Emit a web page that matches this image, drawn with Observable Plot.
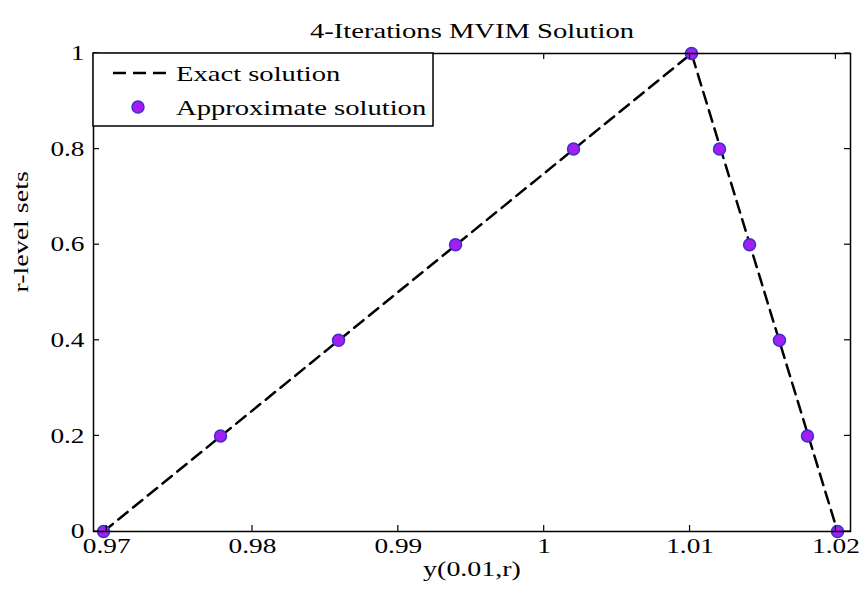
<!DOCTYPE html>
<html>
<head>
<meta charset="utf-8">
<script src="https://cdn.jsdelivr.net/npm/d3@7"></script>
<script src="https://cdn.jsdelivr.net/npm/@observablehq/plot@0.6"></script>
<style>
  html, body { margin: 0; padding: 0; background: #fff; }
  #chart { width: 860px; height: 591px; }
</style>
</head>
<body>
<div id="chart"></div>
<script>
// ---- data ----
const rLevels = [0, 0.2, 0.4, 0.6, 0.8, 1, 0.8, 0.6, 0.4, 0.2, 0];
const approxY = [0.96979, 0.97781, 0.98590, 0.99392, 1.00201, 1.01010, 1.01202, 1.01408, 1.01613, 1.01805, 1.02011];
const exactY = [0.96979, 1.01010, 1.02011];
const exactR = [0, 1, 0];
const xTicks = [0.97, 0.98, 0.99, 1.00, 1.01, 1.02];
const xTickLabels = ["0.97", "0.98", "0.99", "1", "1.01", "1.02"];
const yTicks = [0, 0.2, 0.4, 0.6, 0.8, 1];
const yTickLabels = ["0", "0.2", "0.4", "0.6", "0.8", "1"];
const titleText = "4-Iterations MVIM Solution";
const xLabel = "y(0.01,r)";
const yLabel = "r-level sets";
const legendLabels = ["Exact solution", "Approximate solution"];

const approx = approxY.map((y, i) => ({y, r: rLevels[i]}));
const exact = exactY.map((y, i) => ({y, r: exactR[i]}));

const W = 860, H = 591;
const mL = 93, mR = 10, mT = 53, mB = 60;
const xDom = [0.9691, 1.0210], yDom = [0, 1];
const FONT = "Liberation Serif, Times New Roman, serif";
const fill = "#a21ff0", edge = "#3c2fd2";
const tickLen = 6;

const svg = Plot.plot({
  width: W, height: H,
  marginLeft: mL, marginRight: mR, marginTop: mT, marginBottom: mB,
  style: {fontFamily: FONT, fontSize: "21px", color: "black", background: "white"},
  x: {domain: xDom},
  y: {domain: yDom},
  marks: [
    Plot.axisX(xTicks, {tickSize: 0, tickPadding: 7, label: null, fontSize: 21, tickFormat: (d) => xTickLabels[xTicks.indexOf(d)]}),
    Plot.axisY(yTicks, {tickSize: 0, tickPadding: 9, label: null, fontSize: 21, tickFormat: (d) => yTickLabels[yTicks.indexOf(d)]}),
    Plot.line(exact, {x: "y", y: "r", stroke: "black", strokeWidth: 2.5, strokeDasharray: "12,7"}),
    Plot.dot(approx, {x: "y", y: "r", r: 6, fill: fill, stroke: edge, strokeWidth: 1.5}),
    Plot.frame({stroke: "black", strokeWidth: 1.5}),
    Plot.text([titleText], {frameAnchor: "top", dy: -31, fontSize: 22, fill: "black"}),
    Plot.text([xLabel], {frameAnchor: "bottom", dy: 44, fontSize: 21.5, fill: "black"}),
    Plot.text([yLabel], {frameAnchor: "left", dx: -72, rotate: -90, fontSize: 21.5, fill: "black"})
  ]
});
document.getElementById("chart").appendChild(svg);

const s = d3.select(svg);
// inward ticks on all four sides, positioned with Plot's own scales
try {
  const sx = svg.scale("x"), sy = svg.scale("y");
  const xLeftPx = sx.apply(xDom[0]), xRightPx = sx.apply(xDom[1]);
  const yBottomPx = sy.apply(yDom[0]), yTopPx = sy.apply(yDom[1]);
  const tg = s.append("g").attr("stroke", "black").attr("stroke-width", 1.2);
  xTicks.forEach(v => {
    const px = sx.apply(v);
    tg.append("line").attr("x1", px).attr("x2", px).attr("y1", yBottomPx).attr("y2", yBottomPx - tickLen);
    tg.append("line").attr("x1", px).attr("x2", px).attr("y1", yTopPx).attr("y2", yTopPx + tickLen);
  });
  yTicks.forEach(v => {
    const py = sy.apply(v);
    tg.append("line").attr("x1", xLeftPx).attr("x2", xLeftPx + tickLen).attr("y1", py).attr("y2", py);
    tg.append("line").attr("x1", xRightPx).attr("x2", xRightPx - tickLen).attr("y1", py).attr("y2", py);
  });
} catch (e) { console.error(e); }

// legend (decoration)
const lg = s.append("g").attr("font-family", FONT).attr("font-size", 22)
  .attr("text-anchor", "start").style("text-anchor", "start");
lg.append("rect").attr("x", mL).attr("y", mT).attr("width", 340).attr("height", 73)
  .attr("fill", "white").attr("stroke", "black").attr("stroke-width", 1.5);
lg.append("line").attr("x1", 113).attr("x2", 172).attr("y1", 73).attr("y2", 73)
  .attr("stroke", "black").attr("stroke-width", 2.5).attr("stroke-dasharray", "13,7");
lg.append("text").attr("x", 176).attr("y", 73).attr("dy", "0.35em").text(legendLabels[0]);
lg.append("circle").attr("cx", 138).attr("cy", 107).attr("r", 6)
  .attr("fill", fill).attr("stroke", edge).attr("stroke-width", 1.5);
lg.append("text").attr("x", 176).attr("y", 107).attr("dy", "0.35em").text(legendLabels[1]);

// horizontally stretch all text to mimic the reference's wide rendering
svg.querySelectorAll("text").forEach(t => {
  const len = t.getComputedTextLength();
  if (len > 0) {
    t.setAttribute("textLength", (len * 1.3).toFixed(1));
    t.setAttribute("lengthAdjust", "spacingAndGlyphs");
  }
});
</script>
</body>
</html>
